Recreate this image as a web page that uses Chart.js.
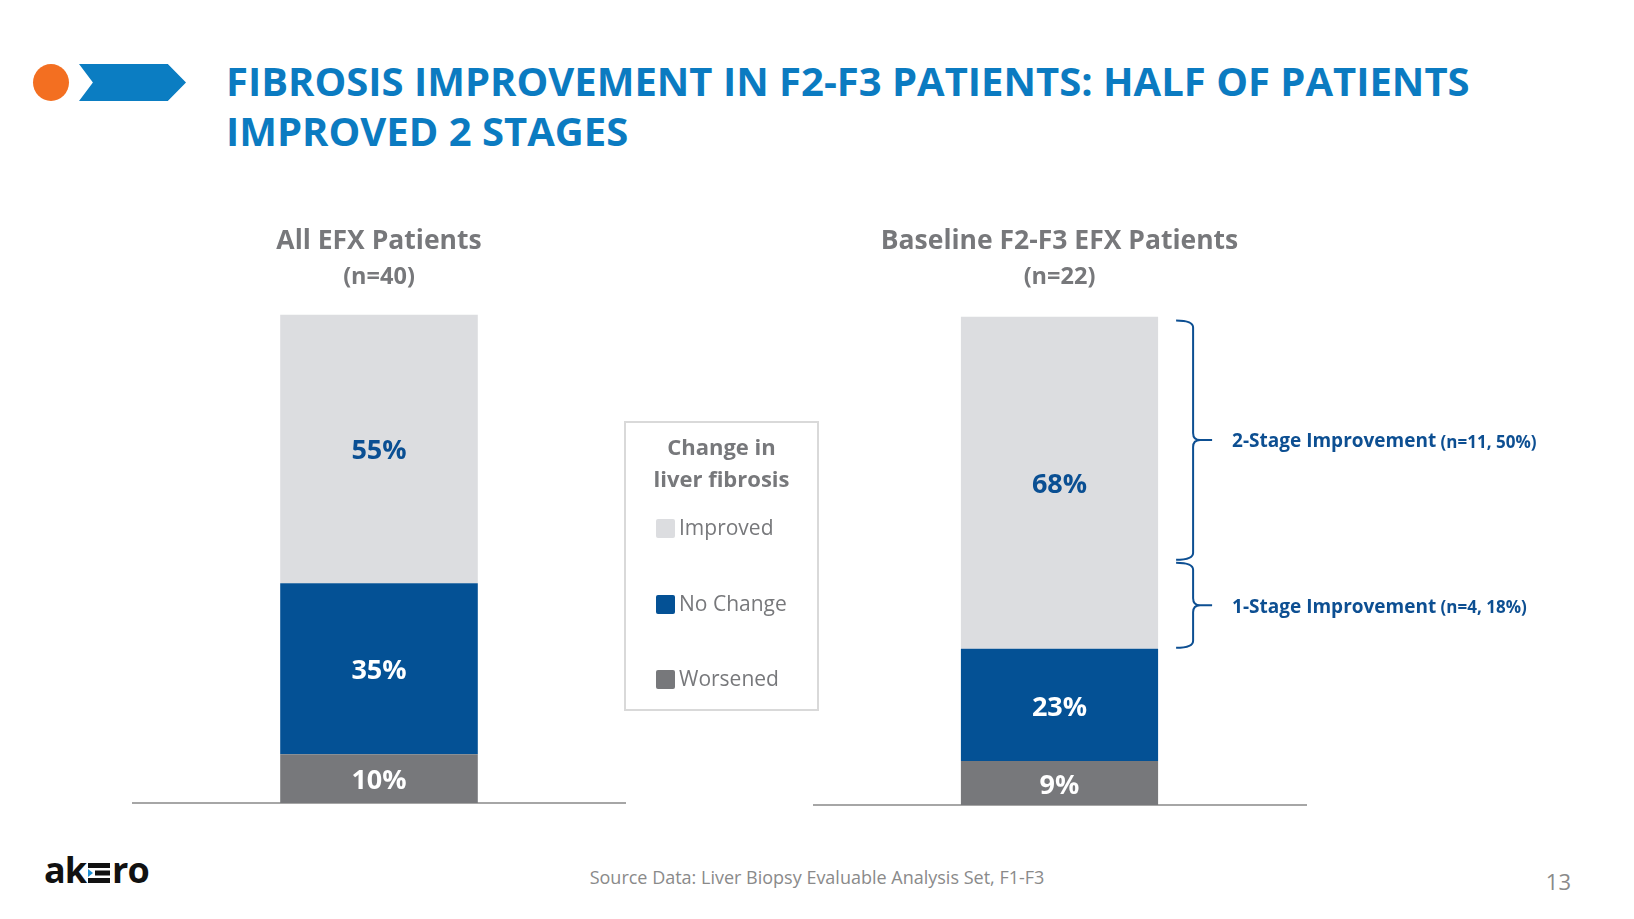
<!DOCTYPE html>
<html>
<head>
<meta charset="utf-8">
<script src="https://cdn.jsdelivr.net/npm/chart.js@4.4.1/dist/chart.umd.min.js"></script>
<style>
  html, body { margin: 0; padding: 0; background: #fff; }
  #slide { position: relative; width: 1634px; height: 919px; overflow: hidden; font-family: 'Open Sans', sans-serif; }
  .bola { position: absolute; left: 33px; top: 64px; width: 36px; height: 37px; border-radius: 50%; background: #f36f21; }
  .seta { position: absolute; left: 79px; top: 64px; width: 107px; height: 37px; background: #0b7dc2;
          clip-path: polygon(0 0, 83% 0, 100% 50%, 83% 100%, 0 100%, 13% 50%); }
  h1 { position: absolute; left: 226px; top: 56px; margin: 0; font-size: 40px; line-height: 50px; font-weight: 700; color: #0b7bc1; white-space: nowrap; }
  .caixa { position: absolute; }
  #caixaEsq { left: 132px; top: 215px; width: 494px; height: 592px; }
  #caixaDir { left: 813px; top: 217px; width: 760px; height: 592px; }
  #legenda { position: absolute; left: 624px; top: 421px; width: 195px; height: 290px; box-sizing: border-box;
             border: 2px solid #d9d9d9; color: #77787b; }
  #legenda .leg-titulo { position: absolute; left: 0; right: 0; top: 7px; text-align: center; font-weight: 700; font-size: 22px; line-height: 32px; }
  #legenda .item { position: absolute; left: 30px; height: 24px; line-height: 24px; font-size: 21px; white-space: nowrap; }
  #legenda .item span { display: inline-block; width: 19px; height: 19px; border-radius: 2px; vertical-align: -3px; margin-right: 4px; }
  .logo { position: absolute; left: 44px; top: 850px; font-size: 36px; line-height: 40px; font-weight: 700; color: #111; letter-spacing: -1px; }
  .logo svg { vertical-align: -2px; }
  .fonte { position: absolute; left: 0; width: 1634px; top: 865px; text-align: center; font-size: 18px; line-height: 24px; color: #8a8a8a; }
  .pagina { position: absolute; right: 63px; top: 867px; font-size: 22px; line-height: 28px; color: #8a8a8a; }
</style>
</head>
<body>
<div id="slide">
  <div class="bola"></div>
  <div class="seta"></div>
  <h1>FIBROSIS IMPROVEMENT IN F2-F3 PATIENTS: HALF OF PATIENTS<br>IMPROVED 2 STAGES</h1>

  <div class="caixa" id="caixaEsq"><canvas id="grafEsq"></canvas></div>
  <div class="caixa" id="caixaDir"><canvas id="grafDir"></canvas></div>
  <div id="legenda"><div class="leg-titulo">Change in<br>liver fibrosis</div></div>

  <div class="logo">ak<svg width="26" height="24" viewBox="0 0 26 24"><rect x="2" y="2" width="22" height="5" fill="#111"/><rect x="9" y="9.5" width="15" height="5" fill="#111"/><rect x="2" y="17" width="22" height="5" fill="#111"/><polygon points="2,8 7,12 2,16" fill="#1a8fd6"/></svg>ro</div>
  <div class="fonte">Source Data: Liver Biopsy Evaluable Analysis Set, F1-F3</div>
  <div class="pagina">13</div>
</div>

<script>
const categorias = ['All EFX Patients', 'Baseline F2-F3 EFX Patients'];
const subtitulos = ['(n=40)', '(n=22)'];
const series = ['Improved', 'No Change', 'Worsened'];
const improved = [55, 68];
const noChange = [35, 23];
const worsened = [10, 9];
const estagios = ['2-Stage Improvement', '1-Stage Improvement'];
const estagiosN = [11, 4];
const estagiosPct = [50, 18];

const coresSeries = { 'Improved': '#dcdde0', 'No Change': '#045195', 'Worsened': '#77787b' };
const coresRotulo = { 'Improved': '#0a4f93', 'No Change': '#ffffff', 'Worsened': '#ffffff' };
const valoresSerie = { 'Improved': improved, 'No Change': noChange, 'Worsened': worsened };
const cinzaTexto = '#77787b';
const azulChave = '#0d4f92';

// rotulos de porcentagem no meio de cada segmento
const pluginRotulos = {
  id: 'rotulosBarras',
  afterDatasetsDraw(chart) {
    const { ctx } = chart;
    ctx.save();
    ctx.font = 'bold 27px "Open Sans"';
    ctx.textAlign = 'center';
    ctx.textBaseline = 'middle';
    chart.data.datasets.forEach((ds, i) => {
      const meta = chart.getDatasetMeta(i);
      meta.data.forEach((el, j) => {
        const { x, y, base } = el.getProps(['x', 'y', 'base'], true);
        ctx.fillStyle = ds.corRotulo;
        ctx.fillText(ds.data[j] + '%', x, (y + base) / 2 + 3);
      });
    });
    ctx.restore();
  }
};

// chaves dos estagios de melhora (so no grafico da direita)
const pluginChaves = {
  id: 'chavesEstagios',
  afterDraw(chart) {
    const { ctx, scales } = chart;
    const yScale = scales.y;
    const idxImproved = chart.data.datasets.findIndex(d => d.label === 'Improved');
    const el = chart.getDatasetMeta(idxImproved).data[0];
    if (!el) return;
    const barraDir = el.x + el.width / 2;
    const x0 = barraDir + 18;
    const x1 = x0 + 17;
    const xPonta = x1 + 19;
    const r = 7;
    let topo = worsened[1] + noChange[1] + improved[1];

    ctx.save();
    ctx.strokeStyle = azulChave;
    ctx.lineWidth = 2;
    estagios.forEach((nome, i) => {
      const base = topo - estagiosPct[i];
      const yTop = yScale.getPixelForValue(topo) + (i === 0 ? 4 : 2);
      const yBot = yScale.getPixelForValue(base) - 1;
      const yMid = (yTop + yBot) / 2;

      ctx.beginPath();
      ctx.moveTo(x0, yTop);
      ctx.quadraticCurveTo(x1, yTop, x1, yTop + r);
      ctx.lineTo(x1, yMid - r);
      ctx.quadraticCurveTo(x1, yMid, x1 + r, yMid);
      ctx.lineTo(xPonta, yMid);
      ctx.moveTo(x1 + r, yMid);
      ctx.quadraticCurveTo(x1, yMid, x1, yMid + r);
      ctx.lineTo(x1, yBot - r);
      ctx.quadraticCurveTo(x1, yBot, x0, yBot);
      ctx.stroke();

      ctx.fillStyle = azulChave;
      ctx.textBaseline = 'middle';
      ctx.textAlign = 'left';
      ctx.font = 'bold 19px "Open Sans"';
      const xTexto = xPonta + 20;
      ctx.fillText(nome, xTexto, yMid + 2);
      const w = ctx.measureText(nome).width;
      ctx.font = 'bold 17px "Open Sans"';
      ctx.fillText(` (n=${estagiosN[i]}, ${estagiosPct[i]}%)`, xTexto + w, yMid + 3);

      topo = base;
    });
    ctx.restore();
  }
};

function criarGrafico(canvasId, idx, plugins, paddingDir, padTitulo, padSubtitulo) {
  const ordem = ['Worsened', 'No Change', 'Improved'];
  const datasets = ordem.map(nome => ({
    label: nome,
    data: [valoresSerie[nome][idx]],
    backgroundColor: coresSeries[nome],
    corRotulo: coresRotulo[nome],
    borderWidth: 0,
    barPercentage: 0.4,
    categoryPercentage: 1.0,
  }));

  return new Chart(document.getElementById(canvasId), {
    type: 'bar',
    data: { labels: [categorias[idx]], datasets },
    plugins,
    options: {
      responsive: true,
      maintainAspectRatio: false,
      animation: false,
      layout: { padding: { left: 0, right: paddingDir, top: 0, bottom: 4 } },
      plugins: {
        legend: { display: false },
        tooltip: { enabled: false },
        title: {
          display: true,
          text: categorias[idx],
          color: cinzaTexto,
          font: { family: 'Open Sans', size: 26.5, weight: 'bold', lineHeight: 1.2 },
          padding: { top: padTitulo, bottom: 0 },
        },
        subtitle: {
          display: true,
          text: subtitulos[idx],
          color: cinzaTexto,
          font: { family: 'Open Sans', size: 23.5, weight: 'bold', lineHeight: 1.2 },
          padding: { top: 5, bottom: padSubtitulo },
        },
      },
      scales: {
        x: {
          stacked: true,
          grid: { display: false, drawTicks: false },
          ticks: { display: false },
          border: { display: true, color: '#a6a6a6', width: 2 },
        },
        y: {
          stacked: true,
          display: false,
          min: 0,
          max: 100,
        }
      }
    }
  });
}

criarGrafico('grafEsq', 0, [pluginRotulos], 0, 11, 23.4);
criarGrafico('grafDir', 1, [pluginRotulos, pluginChaves], 267, 9, 25.4);

// legenda em html, montada a partir das series
const legenda = document.getElementById('legenda');
const topoItens = [92, 168, 243];
series.forEach((nome, i) => {
  const item = document.createElement('div');
  item.className = 'item';
  item.style.top = topoItens[i] + 'px';
  item.innerHTML = `<span style="background:${coresSeries[nome]}"></span>${nome}`;
  legenda.appendChild(item);
});
</script>
</body>
</html>
